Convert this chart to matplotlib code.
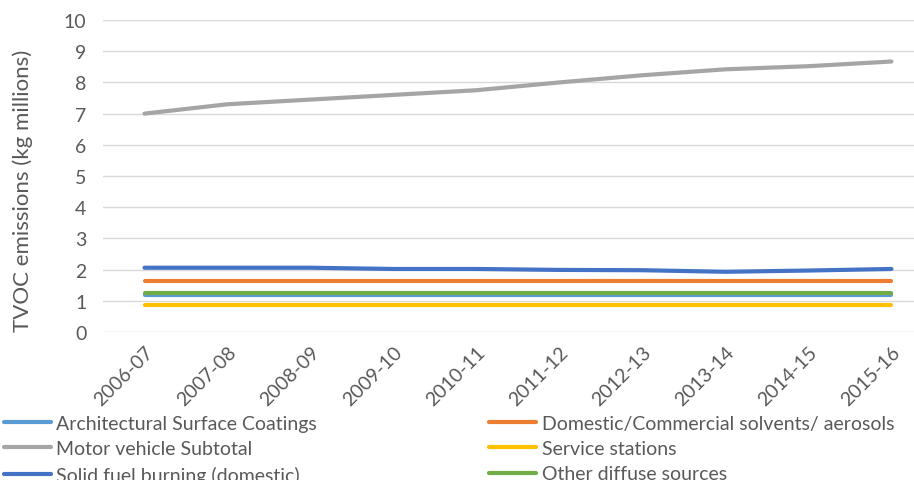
import matplotlib
matplotlib.use('Agg')
import matplotlib.pyplot as plt
import numpy as np

plt.rcParams['font.family'] = ['Lato', 'DejaVu Sans']

years = ['2006-07', '2007-08', '2008-09', '2009-10', '2010-11',
         '2011-12', '2012-13', '2013-14', '2014-15', '2015-16']

arch_coatings = [1.17, 1.17, 1.17, 1.17, 1.17, 1.17, 1.17, 1.17, 1.17, 1.17]
domestic_solvents = [1.62, 1.62, 1.62, 1.62, 1.62, 1.62, 1.62, 1.62, 1.62, 1.62]
motor_vehicle = [7.0, 7.3, 7.45, 7.6, 7.75, 8.0, 8.23, 8.42, 8.52, 8.67]
service_stations = [0.85, 0.85, 0.85, 0.85, 0.85, 0.85, 0.85, 0.85, 0.85, 0.85]
solid_fuel = [2.06, 2.06, 2.06, 2.02, 2.02, 1.99, 1.98, 1.93, 1.97, 2.02]
other_diffuse = [1.24, 1.24, 1.24, 1.24, 1.24, 1.24, 1.24, 1.24, 1.24, 1.24]

series = [
    ('Architectural Surface Coatings', arch_coatings, '#5B9BD5'),
    ('Domestic/Commercial solvents/ aerosols', domestic_solvents, '#ED7D31'),
    ('Motor vehicle Subtotal', motor_vehicle, '#A5A5A5'),
    ('Service stations', service_stations, '#FFC000'),
    ('Solid fuel burning (domestic)', solid_fuel, '#4472C4'),
    ('Other diffuse sources', other_diffuse, '#70AD47'),
]

fig = plt.figure(figsize=(9.14, 4.81), dpi=100)
ax = fig.add_axes([0.1127, 0.3077, 0.908, 0.6486])

x = np.arange(len(years))
lines = {}
for name, vals, col in series:
    ln, = ax.plot(x, vals, color=col, lw=3, solid_capstyle='round')
    lines[name] = ln

ax.set_xlim(-0.5, len(years) - 0.5)
ax.set_ylim(0, 10)
ax.set_yticks(range(0, 11))
ax.set_xticks(x)
ax.set_xticklabels(years, rotation=45, ha='right', va='top',
                   rotation_mode='anchor')
ax.tick_params(axis='both', length=0, labelsize=14, labelcolor='#595959')
ax.tick_params(axis='x', pad=8)
ax.tick_params(axis='y', pad=12)
ax.grid(axis='y', color='#D9D9D9', lw=1)
ax.set_axisbelow(True)
for sp in ax.spines.values():
    sp.set_visible(False)
ax.set_ylabel('TVOC emissions (kg millions)', fontsize=16, color='#595959')
ax.yaxis.set_label_coords(-0.084, 0.455)

col1 = ['Architectural Surface Coatings', 'Motor vehicle Subtotal',
        'Solid fuel burning (domestic)']
col2 = ['Domestic/Commercial solvents/ aerosols', 'Service stations',
        'Other diffuse sources']
for names, xpos in [(col1, 0.0), (col2, 0.531)]:
    leg = fig.legend([lines[n] for n in names], names, loc='upper left',
                     bbox_to_anchor=(xpos, 0.143), frameon=False,
                     fontsize=14, handlelength=2.4, handletextpad=0.3,
                     labelspacing=0.42, borderaxespad=0, borderpad=0.2)
    for t in leg.get_texts():
        t.set_color('#595959')

fig.savefig('out.png', dpi=100)
